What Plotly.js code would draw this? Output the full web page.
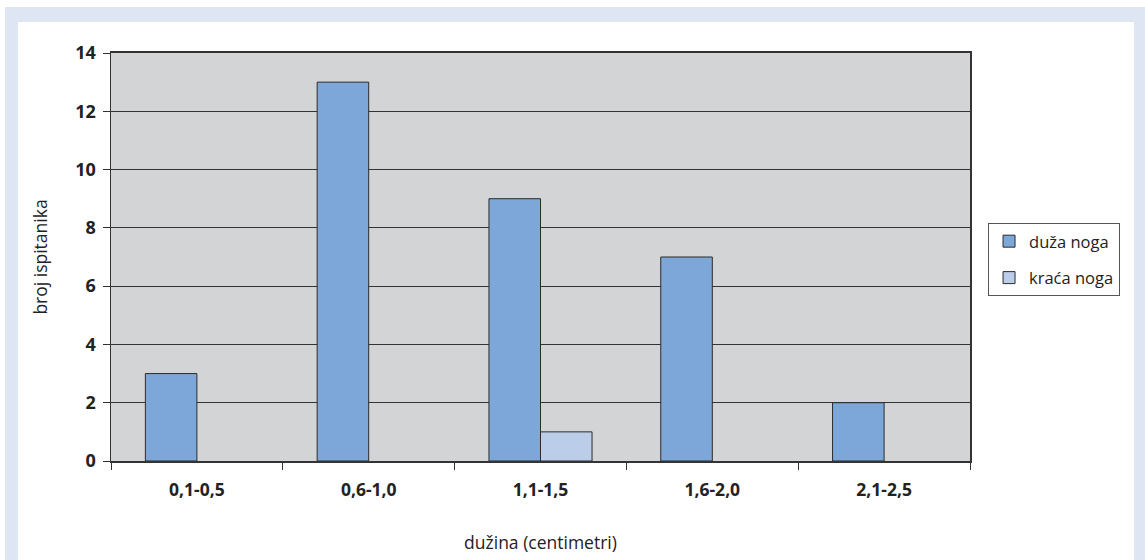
<!DOCTYPE html>
<html><head><meta charset="utf-8">
<script src="https://cdn.plot.ly/plotly-3.0.1.min.js"></script>
<style>
html,body{margin:0;padding:0;background:#fff;width:1145px;height:560px;overflow:hidden}
#frame{position:absolute;left:5px;top:7px;width:1140px;height:553px;background:#dfe6f3}
#chart{position:absolute;left:18px;top:22px;width:1116px;height:538px;background:#fff}
</style></head><body>
<div id="frame"></div>
<div id="chart"></div>
<script>
const categories = ["0,1-0,5", "0,6-1,0", "1,1-1,5", "1,6-2,0", "2,1-2,5"];
const duzaNoga = [3, 13, 9, 7, 2];
const kracaNoga = [0, 0, 1, 0, 0];
const yTicks = [0, 2, 4, 6, 8, 10, 12, 14];

const fontFam = "Open Sans, Liberation Sans, sans-serif";
// zero counts draw no bar at all
const noZero = arr => arr.map(v => v === 0 ? null : v);
const traces = [
  {type:'bar', name:'duža noga', x:categories, y:noZero(duzaNoga), legendgroup:'a',
   marker:{color:'#7da7d9', line:{color:'#2b2b2b', width:1}}},
  {type:'bar', name:'kraća noga', x:categories, y:noZero(kracaNoga), legendgroup:'b',
   marker:{color:'#bccde9', line:{color:'#2b2b2b', width:1}}}
];
const layout = {
  width:1116, height:538,
  margin:{l:93, r:164, t:31, b:99},
  paper_bgcolor:'#ffffff', plot_bgcolor:'#d3d4d6',
  barmode:'group', bargap:0.4, bargroupgap:0,
  font:{family:fontFam, color:'#222'},
  showlegend:true,
  legend:{x:1.021, xanchor:'left', y:0.494, yanchor:'middle',
          bgcolor:'#fff', bordercolor:'#555', borderwidth:1,
          traceorder:'grouped', tracegroupgap:12,
          font:{size:16.5, family:fontFam, color:'#222'}},
  xaxis:{type:'category', tickson:'boundaries', ticks:'outside', ticklen:7,
         tickcolor:'#333', showline:true, linecolor:'#333', linewidth:2, mirror:true,
         layer:'above traces', ticklabelstandoff:12,
         tickfont:{size:17.5, family:fontFam, weight:'bold', color:'#222'},
         title:{text:'dužina (centimetri)', font:{size:17.5, family:fontFam, color:'#222'}, standoff:37}},
  yaxis:{range:[0,14], tickvals:yTicks, ticks:'outside', ticklen:7, tickcolor:'#333',
         showgrid:true, gridcolor:'#333', gridwidth:1, zeroline:false,
         showline:true, linecolor:'#333', linewidth:1.5, mirror:true,
         ticklabelstandoff:3,
         tickfont:{size:18, family:fontFam, weight:'bold', color:'#222'},
         title:{text:'broj ispitanika', font:{size:17.5, family:fontFam, color:'#222'}, standoff:23}}
};
Plotly.newPlot('chart', traces, layout, {displayModeBar:false, staticPlot:true});
</script>
</body></html>
